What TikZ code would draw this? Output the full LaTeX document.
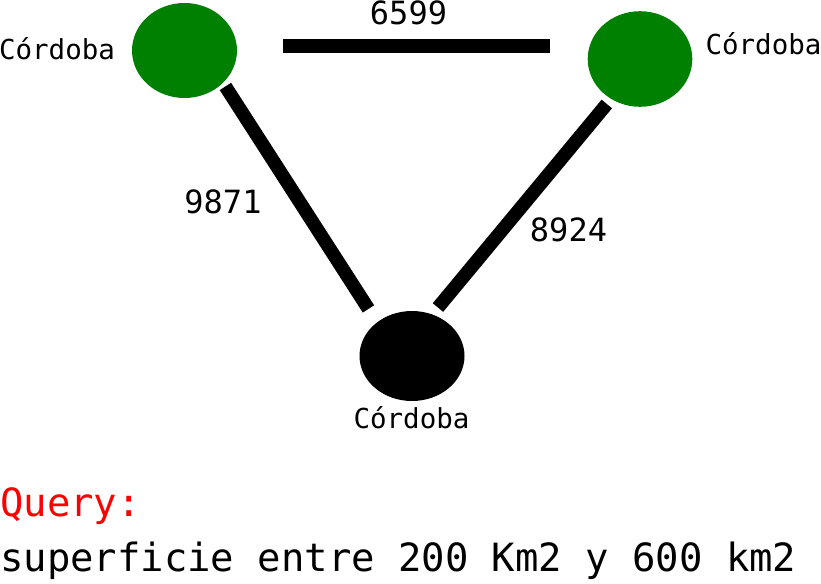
\documentclass[tikz,border=0pt]{standalone}
\usepackage{fontspec}
\usepackage{tikz}
\usetikzlibrary{positioning, shapes.geometric}
\newfontfamily\monofont{DejaVu Sans Mono}
\definecolor{citygreen}{RGB}{0,128,0}

\begin{document}
\begin{tikzpicture}[
    x=1pt, y=-1pt,
    city/.style={ellipse, draw=none, inner sep=0pt, minimum width=105pt, minimum height=95pt},
    cityname/.style={font=\monofont\fontsize{27.5}{32}\selectfont, inner sep=0pt, anchor=base},
    weight/.style={font=\monofont\fontsize{32}{38}\selectfont, inner sep=0pt, anchor=base},
    query/.style={font=\monofont\fontsize{38.9}{46}\selectfont, inner sep=0pt, anchor=base west},
    link/.style={draw=black, line width=13.5pt}
]
\useasboundingbox (0,0) rectangle (821,583);
\node[city, fill=citygreen] (lft) at (184.5, 50.5) {};
\node[city, fill=citygreen, minimum width=104.6pt, minimum height=95.6pt] (rgt) at (640, 59) {};
\node[city, fill=black, minimum height=90pt] (bot) at (412, 356) {};
\node[cityname] (lftname) at (57, 59.3) {Córdoba};
\node[cityname] (rgtname) at (763.5, 55) {Córdoba};
\node[cityname] (botname) at (411.5, 428.3) {Córdoba};
\draw[link, shorten <=46pt, shorten >=37.7pt] (lft.5) -- (lft.5 -| rgt.west);
\foreach \a/\b/\s/\e in {lft.320.6/bot.136.9/4.2/15.8, rgt.234.9/bot.64.9/6.5/8.8}
    {\draw[link, shorten <=\s pt, shorten >=\e pt] (\a) -- (\b);}
\node[weight] (w1) at (408.5, 25) {6599};
\node[weight] (w2) at (223, 213.3) {9871};
\node[weight] (w3) at (568.5, 241.7) {8924};
\node[query, text=red] (qtitle) at (0, 516.7) {Query:};
\node[query] (qtext) at (0, 571.7) {superficie entre 200 Km2 y 600 km2};
\end{tikzpicture}
\end{document}
